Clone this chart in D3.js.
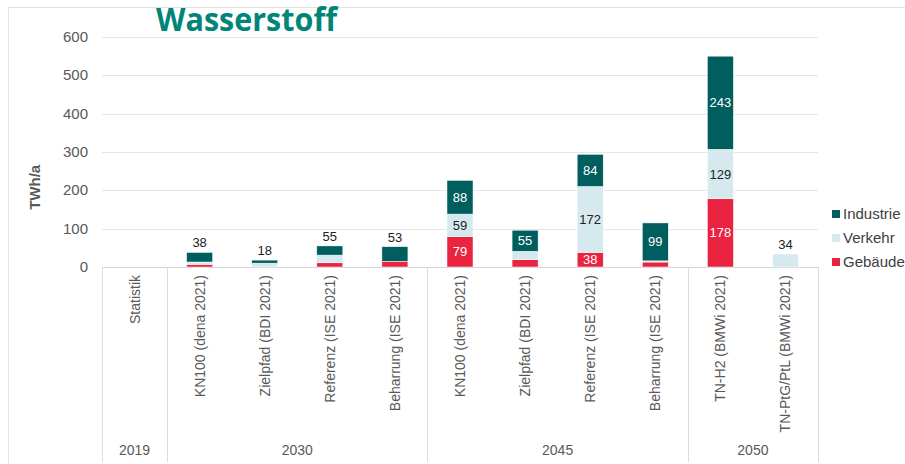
<!DOCTYPE html>
<html>
<head>
<meta charset="utf-8">
<script src="https://cdn.jsdelivr.net/npm/d3@7"></script>
<style>
  body { margin: 0; background: #fff; }
  svg { display: block; font-family: "Liberation Sans", Arial, sans-serif; }
</style>
</head>
<body>
<svg></svg>
<script>
const width = 905, height = 464;
const margin = { left: 102, right: 87, top: 37, bottom: 197 };

// data
const categories = ["Statistik", "KN100 (dena 2021)", "Zielpfad (BDI 2021)", "Referenz (ISE 2021)",
  "Beharrung (ISE 2021)", "KN100 (dena 2021)", "Zielpfad (BDI 2021)", "Referenz (ISE 2021)",
  "Beharrung (ISE 2021)", "TN-H2 (BMWi 2021)", "TN-PtG/PtL (BMWi 2021)"];
const years = ["2019", "2030", "2030", "2030", "2030", "2045", "2045", "2045", "2045", "2050", "2050"];
const gebaeude = [0, 7, 0, 11, 15, 79, 19, 38, 13, 178, 0];
const verkehr = [0, 6, 10, 20, 0, 59, 22, 172, 3, 129, 34];
const industrie = [0, 25, 8, 24, 38, 88, 55, 84, 99, 243, 0];
// which segments get a label inside, and which bars get a total on top
const segLabels = [
  [false, false, false, false, false, true, false, true, false, true, false],
  [false, false, false, false, false, true, false, true, false, true, false],
  [false, false, false, false, false, true, true, true, true, true, false]
];
const totalLabels = [null, 38, 18, 55, 53, null, null, null, null, null, 34];
const yTicks = [0, 100, 200, 300, 400, 500, 600];

const seriesNames = ["Gebäude", "Verkehr", "Industrie"];
const colors = { "Gebäude": "#ea2340", "Verkehr": "#d6e9ef", "Industrie": "#005e5e" };
const textColors = { "Gebäude": "#ffffff", "Verkehr": "#222222", "Industrie": "#ffffff" };

const svg = d3.select("svg").attr("width", width).attr("height", height);

const rows = categories.map((c, i) => ({
  key: i, Gebäude: gebaeude[i], Verkehr: verkehr[i], Industrie: industrie[i]
}));
const stacked = d3.stack().keys(seriesNames)(rows);

const x = d3.scaleBand()
  .domain(d3.range(categories.length))
  .range([margin.left, width - margin.right])
  .paddingInner(0.6)
  .paddingOuter(0.3);
const y = d3.scaleLinear().domain([0, 600]).range([height - margin.bottom, margin.top]);

// frame
svg.append("rect")
  .attr("x", 8.5).attr("y", 7.5)
  .attr("width", 1000).attr("height", 1000)
  .attr("fill", "none").attr("stroke", "#e3e3e3");

// gridlines
svg.append("g")
  .selectAll("line")
  .data(yTicks)
  .join("line")
  .attr("x1", margin.left).attr("x2", width - margin.right)
  .attr("y1", d => Math.round(y(d)) + 0.5).attr("y2", d => Math.round(y(d)) + 0.5)
  .attr("stroke", d => d === 0 ? "#d4d4d4" : "#e6e6e6");

// y axis labels
svg.append("g")
  .selectAll("text")
  .data(yTicks)
  .join("text")
  .attr("x", 88)
  .attr("y", d => y(d) + 5)
  .attr("text-anchor", "end")
  .style("font-size", "15px")
  .attr("fill", "#595959")
  .text(d => d);

svg.append("text")
  .attr("transform", `translate(40, ${y(200) - 3}) rotate(-90)`)
  .attr("text-anchor", "middle")
  .style("font-size", "15px")
  .style("font-weight", "bold")
  .attr("fill", "#595959")
  .text("TWh/a");

// title
svg.append("text")
  .attr("x", 156)
  .attr("y", 31)
  .attr("textLength", 181)
  .attr("lengthAdjust", "spacingAndGlyphs")
  .style("font-family", "'Open Sans', sans-serif")
  .style("font-size", "33px")
  .style("font-weight", "bold")
  .attr("fill", "#008577")
  .text("Wasserstoff");

// bars
const layers = svg.append("g")
  .selectAll("g")
  .data(stacked)
  .join("g")
  .attr("fill", d => colors[d.key]);

layers.selectAll("rect")
  .data(d => d)
  .join("rect")
  .attr("x", (d, i) => x(i))
  .attr("width", x.bandwidth())
  .attr("y", d => y(d[1]))
  .attr("height", d => y(d[0]) - y(d[1]))
  .attr("stroke", "#ffffff")
  .attr("stroke-width", 0.5);

// segment labels
stacked.forEach((layer, li) => {
  svg.append("g")
    .selectAll("text")
    .data(layer.filter((d, i) => segLabels[li][i]).map(d => ({ d, i: layer.indexOf(d) })))
    .join("text")
    .attr("x", o => x(o.i) + x.bandwidth() / 2)
    .attr("y", o => (y(o.d[0]) + y(o.d[1])) / 2 + 4.5)
    .attr("text-anchor", "middle")
    .style("font-size", "13px")
    .attr("fill", textColors[layer.key])
    .text(o => o.d[1] - o.d[0]);
});

// totals above small bars
svg.append("g")
  .selectAll("text")
  .data(totalLabels.map((t, i) => ({ t, i })).filter(o => o.t !== null))
  .join("text")
  .attr("x", o => x(o.i) + x.bandwidth() / 2)
  .attr("y", o => y(gebaeude[o.i] + verkehr[o.i] + industrie[o.i]) - 5)
  .attr("text-anchor", "middle")
  .style("font-size", "13px")
  .attr("fill", "#222222")
  .text(o => o.t);

// category labels (rotated)
svg.append("g")
  .selectAll("text")
  .data(categories)
  .join("text")
  .attr("transform", (d, i) => `translate(${x(i) + x.bandwidth() / 2 + 5}, 275) rotate(-90)`)
  .attr("text-anchor", "end")
  .style("font-size", "14px")
  .attr("fill", "#595959")
  .text(d => d);

// group separators and year labels
const step = x.step();
const groups = [];
years.forEach((yr, i) => {
  const g = groups[groups.length - 1];
  if (g && g.year === yr) g.end = i;
  else groups.push({ year: yr, start: i, end: i });
});
const x0 = margin.left;
const sepX = [x0].concat(groups.map(g => x0 + (g.end + 1) * step));

svg.append("g")
  .selectAll("line")
  .data(sepX)
  .join("line")
  .attr("x1", d => Math.round(d) + 0.5).attr("x2", d => Math.round(d) + 0.5)
  .attr("y1", y(0)).attr("y2", 462)
  .attr("stroke", "#dcdcdc");

svg.append("g")
  .selectAll("text")
  .data(groups)
  .join("text")
  .attr("x", g => x0 + (g.start + g.end + 1) / 2 * step)
  .attr("y", 455)
  .attr("text-anchor", "middle")
  .style("font-size", "14px")
  .attr("fill", "#595959")
  .text(g => g.year);

// legend
const legendNames = ["Industrie", "Verkehr", "Gebäude"];
const legend = svg.append("g")
  .selectAll("g")
  .data(legendNames)
  .join("g")
  .attr("transform", (d, i) => `translate(832, ${210 + i * 24})`);
legend.append("rect")
  .attr("width", 8).attr("height", 8)
  .attr("fill", d => colors[d]);
legend.append("text")
  .attr("x", 11).attr("y", 9)
  .style("font-size", "15px")
  .attr("fill", "#404040")
  .text(d => d);
</script>
</body>
</html>
